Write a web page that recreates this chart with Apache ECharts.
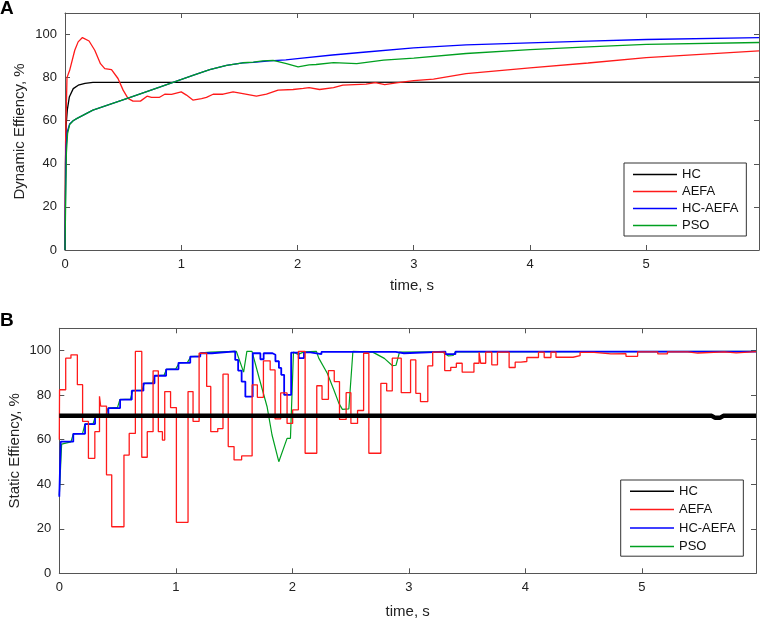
<!DOCTYPE html>
<html>
<head>
<meta charset="utf-8">
<script src="https://cdn.jsdelivr.net/npm/echarts@6/dist/echarts.min.js"></script>
<style>
  html, body { margin: 0; padding: 0; background: #fff; }
  #chart { width: 761px; height: 618px; }
</style>
</head>
<body>
<div id="chart"></div>
<script>
var seriesNames = ['HC', 'AEFA', 'HC-AEFA', 'PSO'];
var xTicks = [0, 1, 2, 3, 4, 5];
var yTicks = [0, 20, 40, 60, 80, 100];

// panel A : dynamic efficiency [time s, %]
var hcA = [[0,0],[0.004,40],[0.01,58],[0.02,65],[0.037,71],[0.071,74.9],[0.114,76.5],[0.172,77.3],[0.24,77.8],[5.97,77.9]];
var aefaA = [[0,0],[0.005,50],[0.017,80],[0.04,83.4],[0.084,92.7],[0.113,96.6],[0.15,98.6],[0.207,97],[0.256,92.7],
  [0.305,86.5],[0.342,84.2],[0.4,83.7],[0.456,79.6],[0.5,74.2],[0.542,70.4],[0.585,69.1],[0.649,69.1],[0.706,71.4],
  [0.744,70.8],[0.81,70.8],[0.858,72.3],[0.916,72.2],[1.0,73.4],[1.045,71.9],[1.1,69.6],[1.175,70.3],[1.217,70.8],
  [1.274,72.3],[1.36,72.3],[1.446,73.4],[1.53,72.6],[1.647,71.4],[1.733,72.3],[1.833,74.2],[1.962,74.5],[2.05,75],
  [2.1,75.4],[2.19,74.5],[2.31,75.4],[2.39,76.5],[2.59,77.0],[2.67,77.7],[2.75,76.8],[2.85,77.6],[3.0,78.6],
  [3.17,79.3],[3.45,81.9],[4.0,84.5],[4.5,86.8],[5.0,89.3],[5.97,92.4]];
var hcAefaA = [[0,0],[0.004,25],[0.01,48],[0.02,55],[0.04,58.5],[0.07,60],[0.1,61],[0.24,64.9],[0.53,70.3],[0.82,75.7],
  [0.96,78.4],[1.1,81],[1.245,83.7],[1.39,85.7],[1.53,86.9],[1.62,87.1],[1.76,87.8],[1.9,88.2],[2.02,88.9],[2.3,90.5],
  [2.59,91.9],[3.0,93.8],[3.45,95.2],[4.0,96.1],[4.5,96.9],[5.0,97.7],[5.97,98.6]];
var psoA = [[0,0],[0.005,20],[0.012,45],[0.022,54],[0.04,58.2],[0.07,60],[0.1,61],[0.24,64.9],[0.53,70.3],[0.82,75.7],
  [0.96,78.4],[1.1,81],[1.245,83.7],[1.39,85.7],[1.53,86.9],[1.62,87.2],[1.7,87.8],[1.79,88],[1.905,86.5],[2.005,85],
  [2.1,85.9],[2.16,86.1],[2.31,87],[2.51,86.5],[2.74,88.1],[3.0,89.1],[3.45,91.2],[4.0,93.0],[4.5,94.3],[5.0,95.4],[5.97,96.3]];

// panel B : static efficiency, step levels [start time s, %]
var hcB = [[0,70.7],[5.6,70.7],[5.63,69.8],[5.67,69.8],[5.7,70.7],[5.98,70.7]];
var aefaB = [[0,60],[0.002,82.4],[0.055,96.6],[0.1,98.1],[0.155,84.7],[0.2,68.2],[0.25,51.6],[0.305,63.6],[0.345,79.5],
  [0.355,75.1],[0.405,44.2],[0.45,20.9],[0.555,53.1],[0.6,62.8],[0.653,99.6],[0.708,52.1],[0.755,63.6],[0.805,90.9],
  [0.85,63.6],[0.885,59.8],[0.905,81.6],[0.955,74.4],[1.005,22.9],[1.105,81.6],[1.148,68.2],[1.2,98.8],[1.265,83.9],
  [1.3,63.6],[1.36,65],[1.405,89.4],[1.45,56.9],[1.5,50.9],[1.565,52.7],[1.655,84.6],[1.7,79],[1.752,95.4],[1.81,91.3],
  [1.852,69.3],[1.9,81],[1.955,67.3],[2.003,73.4],[2.052,99.6],[2.11,53.9],[2.21,84.2],[2.255,78.1],[2.31,91],
  [2.36,86.1],[2.405,69.1],[2.462,81.1],[2.503,67.3],[2.56,73.1],[2.612,98.8],[2.657,53.9],[2.76,85.3],[2.81,81.9],
  [2.858,96.6],[2.935,81.1],[3.015,95.8],[3.06,80.8],[3.1,77.1],[3.163,93.1],[3.205,99.3],[3.308,91.0],[3.36,92.5],
  [3.408,94.3],[3.458,90.3],[3.559,94.3],[3.603,99.3],[3.617,94.3],[3.66,99.3],[3.712,93.6],[3.761,99.3],[3.861,92.4],
  [3.913,94.8],[3.962,95.1],[4.013,96.9],[4.113,99.3],[4.162,96.9],[4.22,99.3],[4.263,97],[4.41,97.7],[4.47,99.2],
  [4.59,98.5],[4.735,98.6],[4.864,97.4],[4.964,99.4],[5.137,98.5],[5.22,99.4],[5.395,98.9],[5.48,99.4],[5.709,99],
  [5.81,99.5],[5.98,99.5]];
var hcAefaB = [[0,34.4],[0.012,59.1],[0.12,62.6],[0.221,67],[0.307,70.4],[0.421,74.2],[0.522,78],[0.622,82],[0.722,85.3],
  [0.817,88.7],[0.917,91.6],[1.023,94.5],[1.124,97.3],[1.21,98.8],[1.31,99.6],[1.51,95.8],[1.535,91],[1.565,86.1],
  [1.597,79.3],[1.66,98.8],[1.726,96.1],[1.754,98.8],[1.83,98.1],[1.855,95.2],[1.885,92.2],[1.905,89.1],[1.93,80.1],
  [1.99,99.1],[2.055,96.6],[2.1,99.2],[2.155,98.4],[2.25,99.4],[2.887,98.8],[2.958,99.5],[3.315,98.4],[3.4,99.5],[5.98,99.6]];
var psoB = [[0,35],[0.02,58],[0.1,59],[0.12,62.6],[0.2,62.8],[0.22,67],[0.29,67.2],[0.31,70.4],[0.4,70.8],[0.42,74.2],
  [0.5,74.5],[0.52,78],[0.61,78.2],[0.63,82],[0.71,82.2],[0.73,85.3],[0.8,85.5],[0.82,88.7],[0.9,89],[0.92,91.6],
  [1.0,91.8],[1.03,94.5],[1.1,94.7],[1.13,97.3],[1.2,97.5],[1.22,99],[1.3,99.3],[1.52,99.6],[1.582,90.3],[1.61,99.6],
  [1.654,99.6],[1.72,86.8],[1.783,74.9],[1.826,62.1],[1.884,50.1],[1.955,60.6],[1.984,60.6],[2.01,99.3],[2.05,98.3],
  [2.1,99.4],[2.207,99.6],[2.227,96.6],[2.3,89.8],[2.357,82.3],[2.4,76.3],[2.43,73.6],[2.485,73.8],[2.494,74.5],
  [2.52,99.6],[2.69,99.3],[2.79,96.5],[2.86,93.2],[2.89,93.4],[2.92,99.3],[3.29,99.4],[3.34,97.6],[3.38,97.8],
  [3.4,99.4],[5.98,99.6]];

var colors = { 'HC': '#000000', 'AEFA': '#ff1a1a', 'HC-AEFA': '#0000ff', 'PSO': '#00a020' };
var font = 'Liberation Sans';
var axisColor = '#555';

var chartDom = document.getElementById('chart');
var myChart = echarts.init(chartDom);

function intLabel(v) {
    return Math.abs(v - Math.round(v)) < 1e-6 && xTicks.indexOf(Math.round(v)) >= 0 ? String(Math.round(v)) : '';
}
function yLabel(v) {
    return yTicks.indexOf(v) >= 0 ? String(v) : '';
}

function xAxes(grid, max, gap) {
    return [{
        gridIndex: grid, type: 'value', min: 0, max: max, interval: 1,
        name: 'time, s', nameLocation: 'middle', nameGap: gap, nameMoveOverlap: false,
        nameTextStyle: { fontSize: 15, color: '#222', fontFamily: font },
        axisLine: { onZero: false, lineStyle: { color: axisColor, width: 1 } },
        axisTick: { inside: true, length: 5, lineStyle: { color: axisColor } },
        axisLabel: { margin: 8, fontSize: 13, color: '#222', fontFamily: font, formatter: intLabel, showMaxLabel: true },
        splitLine: { show: false }
    }, {
        gridIndex: grid, type: 'value', min: 0, max: max, interval: 1, position: 'top',
        axisLine: { onZero: false, lineStyle: { color: axisColor, width: 1 } },
        axisTick: { inside: true, length: 5, lineStyle: { color: axisColor } },
        axisLabel: { show: false },
        splitLine: { show: false }
    }];
}
function yAxes(grid, name, gap) {
    return [{
        gridIndex: grid, type: 'value', min: 0, max: 110, interval: 20,
        name: name, nameLocation: 'middle', nameGap: gap, nameMoveOverlap: false,
        nameTextStyle: { fontSize: 15, color: '#222', fontFamily: font },
        axisLine: { onZero: false, lineStyle: { color: axisColor, width: 1 } },
        axisTick: { inside: true, length: 5, lineStyle: { color: axisColor } },
        axisLabel: { margin: 8, fontSize: 13, color: '#222', fontFamily: font, formatter: yLabel },
        splitLine: { show: false }
    }, {
        gridIndex: grid, type: 'value', min: 0, max: 110, interval: 20, position: 'right',
        axisLine: { onZero: false, lineStyle: { color: axisColor, width: 1 } },
        axisTick: { inside: true, length: 5, lineStyle: { color: axisColor } },
        axisLabel: { show: false },
        splitLine: { show: false }
    }];
}

function line(name, data, xi, yi, width, step, z) {
    return {
        name: name, type: 'line', xAxisIndex: xi, yAxisIndex: yi, data: data,
        showSymbol: false, symbol: 'none', step: step || false, z: z || 2,
        lineStyle: { color: colors[name], width: width },
        itemStyle: { color: colors[name] }
    };
}

function legendAt(left, top, gap, padding) {
    return {
        data: seriesNames, orient: 'vertical', left: left, top: top,
        icon: 'rect', itemWidth: 44, itemHeight: 1.5, itemGap: gap, padding: padding,
        borderColor: '#333', borderWidth: 1, borderRadius: 0, backgroundColor: '#fff',
        selectedMode: false,
        textStyle: { fontSize: 13, color: '#111', fontFamily: font }
    };
}

var option = {
    animation: false,
    backgroundColor: '#fff',
    grid: [
        { left: 65, top: 13, width: 694, height: 237, outerBoundsMode: 'none' },
        { left: 59.3, top: 328.3, width: 696.7, height: 245, outerBoundsMode: 'none' }
    ],
    xAxis: xAxes(0, 5.97, 28).concat(xAxes(1, 5.98, 31)),
    yAxis: yAxes(0, 'Dynamic Effiency, %', 38).concat(yAxes(1, 'Static Effiency, %', 37)),
    legend: [
        legendAt(624, 163, 4, [5, 8, 4, 9]),
        legendAt(620.7, 480, 5.4, [4.7, 8, 3.3, 9.3])
    ],
    graphic: [
        { type: 'text', left: 0, top: -1, style: { text: 'A', font: 'bold 19px "Liberation Sans"', fill: '#000' } },
        { type: 'text', left: 0, top: 311, style: { text: 'B', font: 'bold 19px "Liberation Sans"', fill: '#000' } }
    ],
    series: [
        line('HC', hcA, 0, 0, 1.3),
        line('AEFA', aefaA, 0, 0, 1.3),
        line('HC-AEFA', hcAefaA, 0, 0, 1.3),
        line('PSO', psoA, 0, 0, 1.3),
        line('HC', hcB, 2, 2, 4.5, false, 5),
        line('AEFA', aefaB, 2, 2, 1.3, 'end', 3),
        line('PSO', psoB, 2, 2, 1.2, false, 2),
        line('HC-AEFA', hcAefaB, 2, 2, 1.8, 'end', 2)
    ]
};

myChart.setOption(option);
window.onresize = function() {
    myChart.resize();
};
</script>
</body>
</html>
